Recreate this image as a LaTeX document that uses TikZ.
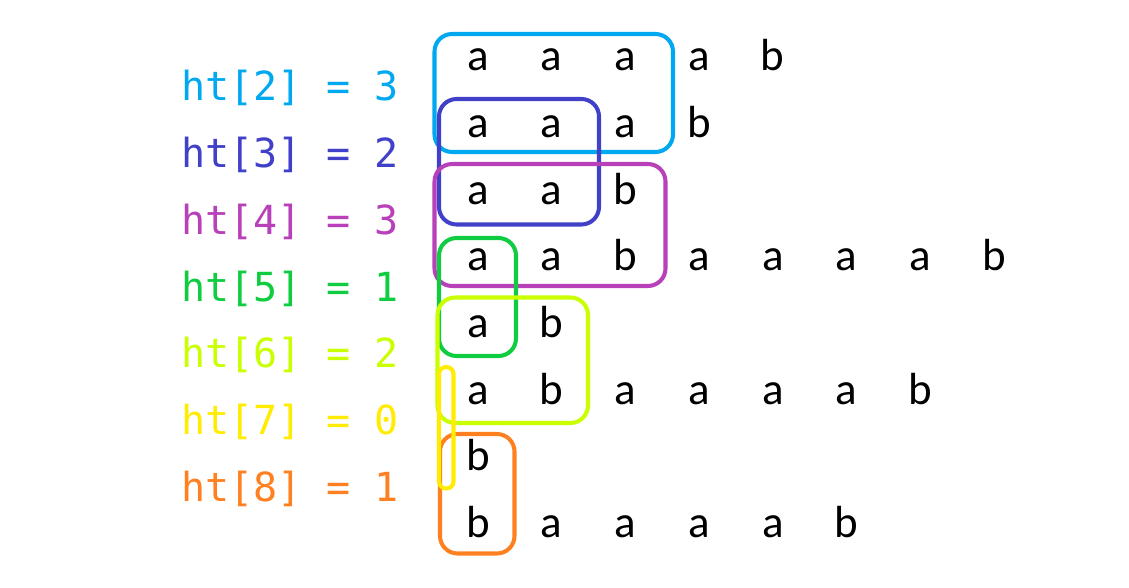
\documentclass[tikz,border=0pt]{standalone}
\usepackage{fontspec}
\setmainfont{Carlito}
\newfontfamily\htmono{DejaVu Sans Mono}

\definecolor{htTwo}{RGB}{0,168,240}
\definecolor{htThree}{RGB}{64,64,200}
\definecolor{htFour}{RGB}{184,64,184}
\definecolor{htFive}{RGB}{16,204,64}
\definecolor{htSix}{RGB}{202,255,0}
\definecolor{htSeven}{RGB}{255,236,0}
\definecolor{htEight}{RGB}{255,128,32}

\tikzset{
  htlabel/.style={anchor=base west, inner sep=0pt, font=\htmono\fontsize{22.8}{26}\selectfont},
  letter/.style={anchor=base, inner sep=0pt, font=\fontsize{25.6}{30}\selectfont},
  hbox/.style={line width=2.3pt, rounded corners=10pt}
}

\begin{document}
\begin{tikzpicture}[x=0.02cm, y=-0.02cm]
  \useasboundingbox (0,0) rectangle (1129,588);
  % labels on the left
  \foreach \k/\v/\c in {2/3/htTwo, 3/2/htThree, 4/3/htFour, 5/1/htFive,
                        6/2/htSix, 7/0/htSeven, 8/1/htEight}
    \node[htlabel, text=\c] (ht\k) at (181, {101+66.67*(\k-2)}) {ht[\k] = \v};
  % the suffixes, one row each
  \foreach \r/\s in {1/{a,a,a,a,b}, 2/{a,a,a,b}, 3/{a,a,b}, 4/{a,a,b,a,a,a,a,b},
                     5/{a,b}, 6/{a,b,a,a,a,a,b}, 7/{b}, 8/{b,a,a,a,a,b}}
    \foreach \ch [count=\j] in \s
      \node[letter] (l\r-\j) at ({478+73.7*(\j-1)}, {71+66.6*(\r-1)}) {\ch};
  % common prefixes
  \draw[hbox, htTwo]    (434.5,34) rectangle (673,152);
  \draw[hbox, htThree]  (439,99) rectangle (599,224.5);
  \draw[hbox, htFour]   (434.5,164) rectangle (665.5,286);
  \draw[hbox, htFive]   (439,238) rectangle (516,356);
  \draw[hbox, htSix]    (437.5,297.5) rectangle (588,423);
  \draw[hbox, htEight]  (440,434) rectangle (514.5,553.5);
  \draw[hbox, htSeven, rounded corners=4pt] (439,367) rectangle (453.5,488.5);
\end{tikzpicture}
\end{document}
